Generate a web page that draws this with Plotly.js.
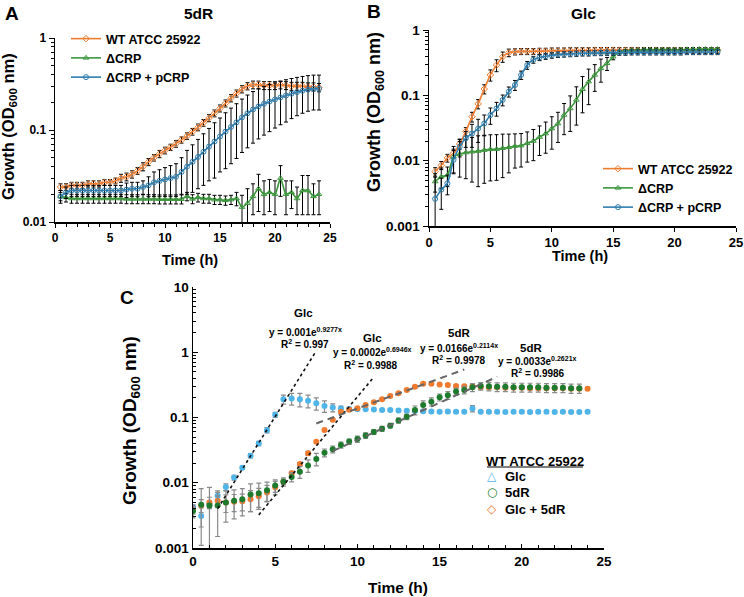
<!DOCTYPE html>
<html>
<head>
<meta charset="utf-8">
<script src="https://cdn.plot.ly/plotly-3.0.1.min.js"></script>
<style>
  html, body { margin: 0; padding: 0; background: #fff; }
  #chart { width: 744px; height: 597px; }
</style>
</head>
<body>
<div id="chart"></div>
<script>
// ---------- Panel A: growth on 5dR (OD600, mean ± SD) ----------
const timeA = [0.5,1,1.5,2,2.5,3,3.5,4,4.5,5,5.5,6,6.5,7,7.5,8,8.5,9,9.5,10,10.5,11,11.5,12,
               12.5,13,13.5,14,14.5,15,15.5,16,16.5,17,17.5,18,18.5,19,19.5,20,20.5,21,21.5,22,22.5,23,23.5,24];
const wtA = [0.024,0.024,0.025,0.025,0.025,0.026,0.026,0.026,0.027,0.027,0.028,0.030,0.031,0.033,0.036,0.040,
             0.045,0.050,0.055,0.060,0.065,0.071,0.078,0.086,0.096,0.107,0.120,0.135,0.152,0.172,0.195,0.222,
             0.250,0.278,0.300,0.310,0.310,0.305,0.305,0.305,0.310,0.305,0.300,0.300,0.300,0.295,0.295,0.290];
const wtA_sd = [0.002,0.002,0.002,0.002,0.002,0.002,0.002,0.002,0.002,0.002,0.002,0.003,0.003,0.003,0.003,0.004,
                0.004,0.004,0.005,0.005,0.005,0.006,0.006,0.007,0.008,0.009,0.010,0.012,0.013,0.015,0.017,0.020,
                0.022,0.025,0.027,0.030,0.030,0.030,0.030,0.030,0.030,0.030,0.030,0.030,0.030,0.030,0.030,0.030];
const crpA = [0.019,0.0185,0.018,0.018,0.018,0.018,0.018,0.018,0.018,0.018,0.018,0.018,0.0178,0.0178,0.0178,0.0178,
              0.0178,0.0178,0.0177,0.0177,0.0177,0.0177,0.0177,0.019,0.0178,0.0185,0.018,0.018,0.0175,0.0175,0.0172,0.0175,
              0.018,0.0145,0.016,0.019,0.023,0.020,0.021,0.020,0.030,0.020,0.021,0.018,0.022,0.022,0.019,0.020];
const crpA_sd = [0.002,0.002,0.002,0.002,0.002,0.002,0.002,0.002,0.002,0.002,0.002,0.002,0.002,0.002,0.002,0.002,
                 0.002,0.002,0.002,0.002,0.002,0.002,0.002,0.002,0.002,0.002,0.002,0.002,0.002,0.002,0.002,0.002,
                 0.003,0.005,0.007,0.007,0.010,0.008,0.008,0.008,0.011,0.008,0.007,0.006,0.010,0.010,0.007,0.008];
const compA = [0.019,0.021,0.022,0.022,0.022,0.022,0.022,0.022,0.022,0.022,0.022,0.022,0.0225,0.023,0.023,0.024,
               0.025,0.027,0.028,0.029,0.030,0.031,0.035,0.040,0.045,0.051,0.058,0.066,0.075,0.085,0.096,0.108,
               0.121,0.137,0.152,0.167,0.180,0.193,0.204,0.215,0.226,0.237,0.248,0.258,0.267,0.275,0.280,0.280];
const compA_sd = [0.003,0.003,0.003,0.003,0.003,0.003,0.003,0.003,0.003,0.003,0.003,0.003,0.004,0.004,0.004,0.004,
                  0.006,0.008,0.009,0.010,0.011,0.012,0.015,0.020,0.024,0.028,0.033,0.038,0.045,0.050,0.058,0.065,
                  0.072,0.080,0.088,0.095,0.100,0.105,0.108,0.110,0.112,0.115,0.115,0.115,0.115,0.115,0.115,0.115];

// ---------- Panel B: growth on Glc ----------
const timeB = [0.5,1,1.5,2,2.5,3,3.5,4,4.5,5,5.5,6,6.5,7,7.5,8,8.5,9,9.5,10,10.5,11,11.5,12,
               12.5,13,13.5,14,14.5,15,15.5,16,16.5,17,17.5,18,18.5,19,19.5,20,20.5,21,21.5,22,22.5,23,23.5];
const wtB = [0.0068,0.0085,0.011,0.013,0.018,0.028,0.047,0.074,0.125,0.205,0.29,0.39,0.45,0.465,0.47,0.47,
             0.47,0.475,0.475,0.48,0.48,0.48,0.485,0.485,0.485,0.485,0.49,0.49,0.49,0.49,0.49,0.49,
             0.49,0.49,0.49,0.49,0.49,0.49,0.49,0.49,0.49,0.49,0.49,0.49,0.49,0.49,0.49];
const wtB_sd = [0.001,0.0012,0.0015,0.002,0.003,0.004,0.008,0.012,0.02,0.04,0.06,0.07,0.06,0.05,0.05,0.05,
                0.05,0.05,0.05,0.05,0.05,0.05,0.05,0.05,0.05,0.05,0.05,0.05,0.05,0.05,0.05,0.05,
                0.05,0.05,0.05,0.05,0.05,0.05,0.05,0.05,0.05,0.05,0.05,0.05,0.05,0.05,0.05];
const crpB = [0.0048,0.0057,0.006,0.0115,0.0126,0.0133,0.0137,0.014,0.0145,0.0149,0.015,0.0155,0.016,0.0167,0.017,0.0185,
              0.020,0.023,0.026,0.031,0.037,0.050,0.063,0.085,0.124,0.162,0.205,0.259,0.31,0.39,0.466,0.48,
              0.49,0.49,0.50,0.50,0.50,0.50,0.50,0.50,0.50,0.505,0.505,0.51,0.51,0.51,0.51];
const crpB_sd = [0.0015,0.002,0.002,0.005,0.007,0.008,0.009,0.010,0.010,0.010,0.010,0.010,0.0095,0.009,0.009,0.009,
                 0.010,0.011,0.013,0.016,0.018,0.025,0.035,0.050,0.070,0.090,0.090,0.100,0.070,0.040,0.020,0.020,
                 0.020,0.020,0.020,0.020,0.020,0.020,0.020,0.020,0.020,0.020,0.020,0.020,0.020,0.020,0.020];
const compB = [0.0026,0.0036,0.0045,0.0103,0.0164,0.022,0.026,0.031,0.037,0.050,0.063,0.085,0.114,0.144,0.205,0.29,
               0.35,0.38,0.395,0.41,0.42,0.425,0.43,0.435,0.44,0.44,0.445,0.445,0.45,0.45,0.45,0.45,
               0.455,0.455,0.455,0.455,0.455,0.455,0.455,0.455,0.455,0.46,0.46,0.46,0.46,0.46,0.46];
const compB_sd = [0.003,0.0018,0.0015,0.004,0.005,0.006,0.010,0.012,0.013,0.014,0.015,0.016,0.020,0.025,0.030,0.040,
                  0.040,0.040,0.040,0.040,0.040,0.040,0.040,0.040,0.040,0.040,0.040,0.040,0.040,0.040,0.040,0.040,
                  0.040,0.040,0.040,0.040,0.040,0.040,0.040,0.040,0.040,0.040,0.040,0.040,0.040,0.040,0.040];

// ---------- Panel C: WT ATCC 25922 on Glc, 5dR and Glc + 5dR ----------
const timeC = [0,0.5,1,1.5,2,2.5,3,3.5,4,4.5,5,5.5,6,6.5,7,7.5,8,8.5,9,9.5,10,10.5,11,11.5,12,
               12.5,13,13.5,14,14.5,15,15.5,16,16.5,17,17.5,18,18.5,19,19.5,20,20.5,21,21.5,22,22.5,23,23.5,24];
const glcC = [0.0042,0.0031,0.0047,0.0063,0.0086,0.012,0.017,0.026,0.040,0.064,0.11,0.19,0.195,0.19,0.18,0.165,
              0.15,0.142,0.137,0.135,0.134,0.134,0.133,0.13,0.13,0.128,0.127,0.126,0.125,0.124,0.123,0.124,
              0.123,0.123,0.137,0.123,0.122,0.122,0.121,0.122,0.122,0.121,0.122,0.122,0.121,0.122,0.121,0.121,0.122];
const glcC_sd = [0.0004,0.001,0.0005,0.0008,0.001,0.001,0.001,0.002,0.003,0.006,0.010,0.030,0.040,0.045,0.040,0.035,
                 0.030,0.020,0.012,0.008,0.005,0.005,0.005,0.005,0.005,0.005,0.005,0.005,0.005,0.005,0.005,0.005,
                 0.005,0.005,0.015,0.005,0.005,0.005,0.005,0.005,0.005,0.005,0.005,0.005,0.005,0.005,0.005,0.005,0.005];
const mixC = [0.0038,0.0045,0.005,0.0053,0.005,0.0051,0.0052,0.0056,0.0062,0.0071,0.0085,0.0104,0.014,0.0193,0.0283,0.0426,
              0.0645,0.092,0.121,0.131,0.138,0.156,0.172,0.19,0.213,0.235,0.265,0.295,0.33,0.33,0.32,0.316,
              0.305,0.30,0.30,0.29,0.29,0.29,0.285,0.285,0.285,0.28,0.28,0.28,0.28,0.28,0.275,0.275,0.275];
const mixC_sd = [0.0005,0.001,0.001,0.001,0.0015,0.0015,0.0015,0.002,0.002,0.002,0.002,0.001,0.001,0.001,0.002,0.002,
                 0.003,0.004,0.005,0.005,0.005,0.006,0.006,0.007,0.008,0.008,0.009,0.010,0.012,0.012,0.012,0.012,
                 0.015,0.015,0.015,0.015,0.015,0.015,0.015,0.015,0.015,0.015,0.015,0.015,0.015,0.015,0.015,0.015,0.015];
const timeC5 = [0,0.5,1,1.5,2,2.5,3,3.5,4,4.5,5,5.5,6,6.5,7,7.5,8,8.5,9,9.5,10,10.5,11,11.5,12,
                12.5,13,13.5,14,14.5,15,15.5,16,16.5,17,17.5,18,18.5,19,19.5,20,20.5,21,21.5,22,22.5,23,23.5];
const dRC = [0.0037,0.0046,0.0045,0.0045,0.005,0.0053,0.0056,0.0066,0.0069,0.0077,0.0091,0.0104,0.0123,0.0147,0.0184,0.0231,
             0.0289,0.0326,0.038,0.0427,0.0467,0.053,0.060,0.067,0.075,0.090,0.103,0.13,0.155,0.175,0.204,0.22,
             0.25,0.265,0.29,0.303,0.30,0.295,0.295,0.29,0.29,0.29,0.29,0.285,0.285,0.285,0.28,0.28];
const dRC_sd = [0.0008,0.0035,0.004,0.003,0.0025,0.0025,0.0025,0.003,0.003,0.0025,0.002,0.0015,0.002,0.003,0.004,0.005,
                0.004,0.004,0.004,0.004,0.005,0.005,0.005,0.006,0.006,0.008,0.010,0.020,0.025,0.025,0.025,0.030,
                0.030,0.035,0.040,0.040,0.045,0.045,0.045,0.045,0.045,0.045,0.045,0.045,0.045,0.045,0.045,0.045];

// Exponential trendlines y = a·e^(b·t) with their R², fitted over the given time windows
const fitNames = ['Glc', 'Glc', '5dR', '5dR'];
const fitA = [0.001, 0.0002, 0.0166, 0.0033];
const fitB = [0.9277, 0.6946, 0.2114, 0.2621];
const fitR2 = ['0.997', '0.9988', '0.9978', '0.9986'];
const fitStart = [1.5, 4, 7.5, 8.5];
const fitEnd = [7.5, 11, 16.5, 18.5];

// ---------- helpers ----------
const W = 744, H = 597;
const PX = x => x / W;
const PY = y => 1 - y / H;
const FONT = 'Liberation Sans, Arial, sans-serif';
const ORANGE = '#ED7D31', GREEN = '#3C963C', BLUE = '#2F7DAE';
const C_BLUE = '#4FB4E8', C_GREEN = '#1E7A2C', C_ORANGE = '#F07A2E';

function minorLog(lo, hi) {
  const v = [];
  for (let d = lo; d < hi; d++) for (let k = 2; k <= 9; k++) v.push(+(k * Math.pow(10, d)).toPrecision(3));
  return v;
}

function growth(x, y, sd, name, color, symbol, xa, ya, legend) {
  return {
    type: 'scatter', mode: 'lines+markers', x, y, name, xaxis: xa, yaxis: ya, legend,
    line: { color, width: 1.6, shape: 'spline', smoothing: 0.6 },
    marker: { symbol, size: 5, color, line: { color, width: 1 } },
    error_y: { type: 'data', array: sd, visible: true, color: '#000', thickness: 1, width: 2 }
  };
}

function dots(x, y, sd, color) {
  return {
    type: 'scatter', mode: 'markers', x, y, xaxis: 'x3', yaxis: 'y3', showlegend: false,
    marker: { symbol: 'circle', size: 6, color },
    error_y: { type: 'data', array: sd, visible: true, color: '#8a8a8a', thickness: 1.2, width: 2.5 }
  };
}

const traces = [
  growth(timeA, wtA, wtA_sd, 'WT ATCC 25922', ORANGE, 'diamond-open', 'x', 'y', 'legend'),
  growth(timeA, crpA, crpA_sd, 'ΔCRP', GREEN, 'triangle-up-open', 'x', 'y', 'legend'),
  growth(timeA, compA, compA_sd, 'ΔCRP + pCRP', BLUE, 'circle-open', 'x', 'y', 'legend'),
  growth(timeB, wtB, wtB_sd, 'WT ATCC 25922', ORANGE, 'diamond-open', 'x2', 'y2', 'legend2'),
  growth(timeB, crpB, crpB_sd, 'ΔCRP', GREEN, 'triangle-up-open', 'x2', 'y2', 'legend2'),
  growth(timeB, compB, compB_sd, 'ΔCRP + pCRP', BLUE, 'circle-open', 'x2', 'y2', 'legend2'),
  dots(timeC, glcC, glcC_sd, C_BLUE),
  dots(timeC, mixC, mixC_sd, C_ORANGE),
  dots(timeC5, dRC, dRC_sd, C_GREEN)
];

// trendlines drawn from their equations
fitA.forEach((a, i) => {
  const xs = [], ys = [];
  for (let k = 0; k <= 40; k++) {
    const t = fitStart[i] + (fitEnd[i] - fitStart[i]) * k / 40;
    xs.push(t); ys.push(a * Math.exp(fitB[i] * t));
  }
  const isGlc = fitNames[i] === 'Glc';
  traces.push({
    type: 'scatter', mode: 'lines', x: xs, y: ys, xaxis: 'x3', yaxis: 'y3', showlegend: false,
    line: isGlc ? { color: '#111', width: 1.6, dash: 'dot' } : { color: '#666', width: 2, dash: '7px,5px' }
  });
});

const tickFont = s => ({ family: FONT, size: s, color: '#000', weight: 'bold' });
function xAxis(domain, anchor, tickSize, minor, inside) {
  const ax = {
    domain, anchor, range: [0, 25], dtick: 5, tick0: 0, showgrid: false, zeroline: false,
    showline: true, linecolor: '#000', linewidth: 1.5, ticks: inside ? 'inside' : 'outside', ticklen: 4,
    tickcolor: '#000', tickfont: tickFont(tickSize), fixedrange: true
  };
  if (minor) ax.minor = { dtick: 1, ticks: inside ? 'inside' : 'outside', ticklen: 3, tickcolor: '#000', showgrid: false };
  return ax;
}
function yAxis(domain, anchor, lo, hi, tickSize, inside) {
  const vals = [];
  for (let d = lo; d <= hi; d++) vals.push(Math.pow(10, d));
  return {
    domain, anchor, type: 'log', range: [lo, hi], tickmode: 'array', tickvals: vals,
    ticktext: vals.map(v => String(+v.toPrecision(1))), showgrid: false, zeroline: false,
    showline: true, linecolor: '#000', linewidth: 1.5, ticks: inside ? 'inside' : 'outside', ticklen: 5,
    tickcolor: '#000', tickfont: tickFont(tickSize), fixedrange: true,
    minor: { tickmode: 'array', tickvals: minorLog(lo, hi), ticks: inside ? 'inside' : 'outside',
             ticklen: 3, tickcolor: '#000', showgrid: false }
  };
}

const annotations = [];
function label(text, x, y, size, extra) {
  annotations.push(Object.assign({
    text, x: PX(x), y: PY(y), xref: 'paper', yref: 'paper', showarrow: false,
    xanchor: 'center', yanchor: 'middle', font: { family: FONT, size, color: '#000', weight: 'bold' }
  }, extra || {}));
}

// panel letters and titles
label('A', 12, 14, 19);
label('B', 374, 11, 19);
label('C', 127, 297, 19);
label('5dR', 198, 14, 15.5);
label('Glc', 583, 14, 15.5);

// axis titles
const yTitle = 'Growth (OD<sub>600</sub> nm)';
label('Time (h)', 190, 260, 14.5);
label('Time (h)', 580, 256, 14.5);
label('Time (h)', 398, 587, 15.5);
label(yTitle, 9, 127, 16.5, { textangle: -90 });
label(yTitle, 376, 112, 18, { textangle: -90 });
label(yTitle, 131, 421, 19, { textangle: -90 });

// trendline labels
const fitLabelPos = [
  [[303, 313], [305, 332], [305, 344]],
  [[372, 338], [372, 352], [371, 365]],
  [[459, 333], [459, 348], [459, 360]],
  [[531, 348], [537, 361], [538, 373]]
];
fitA.forEach((a, i) => {
  const p = fitLabelPos[i];
  label(fitNames[i], p[0][0], p[0][1], 11.5);
  label('y = ' + a + 'e<sup>' + fitB[i] + 'x</sup>', p[1][0], p[1][1], 10);
  label('R<sup>2</sup> = ' + fitR2[i], p[2][0], p[2][1], 10);
});

// panel C key
label('WT ATCC 25922', 535, 461, 13);
const keyRows = [['△', C_BLUE, 'Glc', 476], ['○', C_GREEN, '5dR', 492], ['◇', C_ORANGE, 'Glc + 5dR', 509]];
keyRows.forEach(r => {
  label(r[0], 492, r[3], 12, { font: { family: 'DejaVu Sans', size: 12, color: r[1] } });
  label(r[2], 503, r[3], 13, { xanchor: 'left' });
});

const layout = {
  width: W, height: H, margin: { l: 0, r: 0, t: 0, b: 0 },
  paper_bgcolor: '#fff', plot_bgcolor: '#fff',
  font: { family: FONT, color: '#000' },
  xaxis: xAxis([PX(55), PX(330)], 'y', 12, true, false),
  yaxis: yAxis([PY(222), PY(38)], 'x', -2, 0, 12, false),
  xaxis2: xAxis([PX(429), PX(736)], 'y2', 13, false, false),
  yaxis2: yAxis([PY(226), PY(30)], 'x2', -3, 0, 13.5, false),
  xaxis3: xAxis([PX(193), PX(604)], 'y3', 13.5, true, true),
  yaxis3: yAxis([PY(548), PY(287)], 'x3', -3, 1, 13.5, true),
  legend: { x: PX(66), y: PY(24), xanchor: 'left', yanchor: 'top', bgcolor: 'rgba(0,0,0,0)',
            font: { family: FONT, size: 12.5, color: '#000', weight: 'bold' }, itemwidth: 30, tracegroupgap: 0 },
  legend2: { x: PX(598), y: PY(154), xanchor: 'left', yanchor: 'top', bgcolor: 'rgba(0,0,0,0)',
             font: { family: FONT, size: 12.5, color: '#000', weight: 'bold' }, itemwidth: 30, tracegroupgap: 0 },
  shapes: [{ type: 'line', xref: 'paper', yref: 'paper', x0: PX(487), x1: PX(583), y0: PY(467), y1: PY(467),
             line: { color: '#000', width: 1.2 } }],
  annotations,
  showlegend: true
};

Plotly.newPlot('chart', traces, layout, { staticPlot: true, displayModeBar: false });
</script>
</body>
</html>
